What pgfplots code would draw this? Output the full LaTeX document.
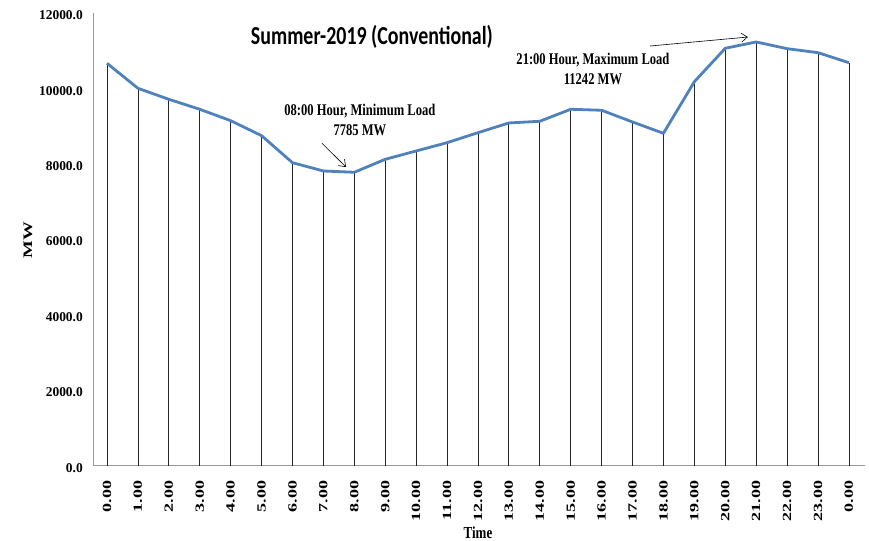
\documentclass[border=0pt]{standalone}
\usepackage{fontspec}
\setmainfont{Liberation Serif}
\newfontfamily\calibri{Carlito}
\usepackage{graphicx}
\usepackage{pgfplots}
\usepackage{pgfplotstable}
\pgfplotsset{compat=1.18}
\usetikzlibrary{arrows.meta}
\definecolor{lineblue}{RGB}{79,129,189}
\newcommand{\sx}[1]{\scalebox{1.45}[1]{#1}}
\newcommand{\sy}[1]{\scalebox{1}[1.3]{#1}}

\pgfplotstableread{
h load
0 10677
1 10013
2 9721
3 9456
4 9154
5 8756
6 8039
7 7819
8 7785
9 8129
10 8350
11 8570
12 8835
13 9093
14 9138
15 9456
16 9430
17 9119
18 8819
19 10188
20 11075
21 11242
22 11064
23 10958
24 10692
}\loadtable

\begin{document}
\begin{tikzpicture}
\path[use as bounding box] (0,0) rectangle (869bp,541bp);
\begin{axis}[
  at={(93bp,75.3bp)}, anchor=south west,
  scale only axis, width=772bp, height=452.3bp,
  xmin=-0.453, xmax=24.52, ymin=0, ymax=12000,
  scaled y ticks=false, scaled x ticks=false,
  axis x line*=bottom, axis y line*=left,
  axis line style={-, draw=black!40, line width=1bp},
  major tick length=0pt,
  ytick={0,2000,4000,6000,8000,10000,12000},
  yticklabels={0.0,2000.0,4000.0,6000.0,8000.0,10000.0,12000.0},
  yticklabel style={font=\bfseries\fontsize{13.5}{15}\selectfont, anchor=east, inner sep=0pt, xshift=-10bp, yshift=-2bp},
  xtick={0,...,24},
  xticklabels={\sx{0.00},\sx{1.00},\sx{2.00},\sx{3.00},\sx{4.00},\sx{5.00},\sx{6.00},\sx{7.00},\sx{8.00},\sx{9.00},\sx{10.00},\sx{11.00},\sx{12.00},\sx{13.00},\sx{14.00},\sx{15.00},\sx{16.00},\sx{17.00},\sx{18.00},\sx{19.00},\sx{20.00},\sx{21.00},\sx{22.00},\sx{23.00},\sx{0.00}},
  xticklabel style={font=\bfseries\fontsize{12.5}{14}\selectfont, yshift=-15bp, rotate=90, anchor=east, inner sep=0pt},
  xlabel={\sy{Time}},
  xlabel style={font=\bfseries\fontsize{13}{15}\selectfont, at={(axis description cs:0.4987,-0.149)}, anchor=center},
  ylabel={\sx{MW}},
  ylabel style={font=\bfseries\fontsize{13}{15}\selectfont, at={(axis description cs:-0.0842,0.499)}, anchor=center},
  clip=false,
]
\addplot[ycomb, draw=black!85, line width=0.8bp, no markers] table[x=h, y=load] {\loadtable};
\addplot[draw=lineblue, line width=2.8bp, no markers, line join=round] table[x=h, y=load] {\loadtable};

\node[font=\calibri\bfseries\fontsize{20}{24}\selectfont, anchor=center] at (axis cs:8.57,11380) {\sy{Summer-2019 (Conventional)}};

\node[font=\bfseries\fontsize{12.6}{15.4}\selectfont, anchor=center, inner sep=0pt] at (axis cs:8.18,9138)
  {\sy{\begin{tabular}{@{}c@{}}08:00 Hour, Minimum Load\\7785 MW\end{tabular}}};
\draw[black, line width=0.6bp, -{Straight Barb[length=6bp,width=9bp]}] (axis cs:6.95,8557) -- (axis cs:7.73,7925);

\node[font=\bfseries\fontsize{12.6}{15.4}\selectfont, anchor=center, inner sep=0pt] at (axis cs:15.72,10473)
  {\sy{\begin{tabular}{@{}c@{}}21:00 Hour, Maximum Load\\11242 MW\end{tabular}}};
\draw[black, line width=0.6bp, -{Straight Barb[length=6bp,width=9bp]}] (axis cs:17.56,11134) -- (axis cs:20.73,11373);
\end{axis}
\end{tikzpicture}
\end{document}
